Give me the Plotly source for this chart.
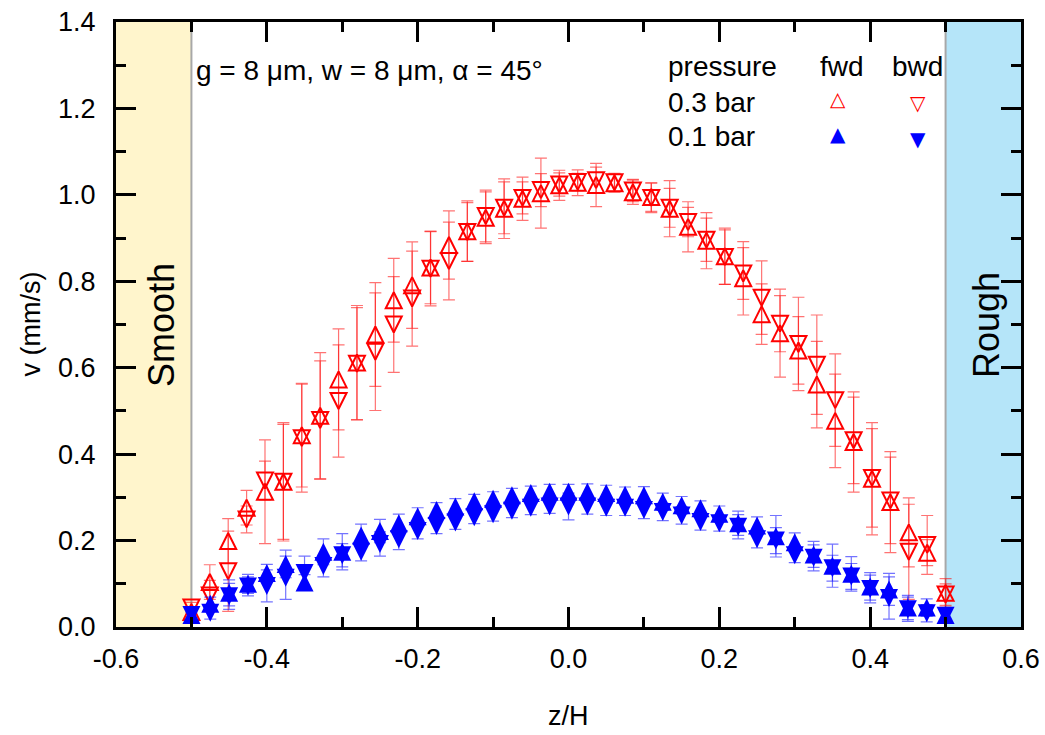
import plotly.graph_objects as go

# ---------------- data ----------------
z_03 = [-0.5, -0.47561, -0.45122, -0.42683, -0.40244, -0.37805, -0.35366, -0.32927, -0.30488,
        -0.28049, -0.2561, -0.23171, -0.20732, -0.18293, -0.15854, -0.13415, -0.10976, -0.08537,
        -0.06098, -0.03659, -0.0122, 0.0122, 0.03659, 0.06098, 0.08537, 0.10976, 0.13415, 0.15854,
        0.18293, 0.20732, 0.23171, 0.2561, 0.28049, 0.30488, 0.32927, 0.35366, 0.37805, 0.40244,
        0.42683, 0.45122, 0.47561, 0.5]
v_fwd_03 = [0.035, 0.104, 0.199, 0.276, 0.313, 0.336, 0.444, 0.489, 0.573, 0.612, 0.677, 0.756,
            0.791, 0.832, 0.884, 0.916, 0.947, 0.968, 0.991, 1.004, 1.022, 1.028, 1.023, 1.027,
            1.006, 0.995, 0.968, 0.926, 0.894, 0.858, 0.807, 0.724, 0.680, 0.640, 0.561, 0.477,
            0.428, 0.343, 0.289, 0.219, 0.172, 0.079]
v_bwd_03 = [0.045, 0.073, 0.129, 0.249, 0.339, 0.336, 0.437, 0.479, 0.523, 0.609, 0.637, 0.700,
            0.760, 0.829, 0.847, 0.914, 0.951, 0.970, 0.993, 1.011, 1.024, 1.030, 1.034, 1.029,
            1.010, 0.993, 0.970, 0.937, 0.896, 0.856, 0.818, 0.762, 0.702, 0.655, 0.607, 0.525,
            0.432, 0.345, 0.293, 0.174, 0.190, 0.075]
e_fwd_03 = [0.012, 0.04, 0.052, 0.04, 0.12, 0.137, 0.12, 0.146, 0.117, 0.132, 0.12, 0.097, 0.1,
            0.084, 0.079, 0.07, 0.06, 0.069, 0.05, 0.081, 0.035, 0.03, 0.05, 0.021, 0.028, 0.033,
            0.065, 0.058, 0.065, 0.065, 0.085, 0.07, 0.102, 0.078, 0.1, 0.108, 0.116, 0.13, 0.117,
            0.08, 0.03, 0.033]
e_bwd_03 = [0.012, 0.035, 0.093, 0.031, 0.045, 0.133, 0.125, 0.137, 0.13, 0.13, 0.136, 0.111,
            0.11, 0.086, 0.09, 0.068, 0.06, 0.06, 0.037, 0.038, 0.027, 0.02, 0.03, 0.021, 0.026,
            0.034, 0.045, 0.034, 0.05, 0.063, 0.06, 0.085, 0.065, 0.108, 0.115, 0.107, 0.1, 0.114,
            0.1, 0.11, 0.068, 0.025]

z_01 = [-0.5, -0.475, -0.45, -0.425, -0.4, -0.375, -0.35, -0.325, -0.3, -0.275, -0.25, -0.225,
        -0.2, -0.175, -0.15, -0.125, -0.1, -0.075, -0.05, -0.025, 0.0, 0.025, 0.05, 0.075, 0.1,
        0.125, 0.15, 0.175, 0.2, 0.225, 0.25, 0.275, 0.3, 0.325, 0.35, 0.375, 0.4, 0.425, 0.45,
        0.475, 0.5]
v_fwd_01 = [0.028, 0.054, 0.079, 0.100, 0.125, 0.146, 0.103, 0.174, 0.174, 0.212, 0.222, 0.240,
            0.256, 0.271, 0.279, 0.291, 0.297, 0.305, 0.310, 0.313, 0.313, 0.313, 0.310, 0.306,
            0.305, 0.290, 0.282, 0.275, 0.262, 0.240, 0.235, 0.210, 0.196, 0.168, 0.142, 0.123,
            0.094, 0.087, 0.045, 0.045, 0.028]
v_bwd_01 = [0.028, 0.033, 0.071, 0.094, 0.095, 0.114, 0.125, 0.141, 0.166, 0.174, 0.192, 0.203,
            0.222, 0.234, 0.242, 0.254, 0.261, 0.269, 0.276, 0.279, 0.279, 0.279, 0.276, 0.276,
            0.271, 0.266, 0.258, 0.243, 0.240, 0.232, 0.203, 0.200, 0.166, 0.160, 0.136, 0.117,
            0.088, 0.067, 0.041, 0.032, 0.026]
e_fwd_01 = [0.01, 0.015, 0.03, 0.022, 0.02, 0.032, 0.018, 0.03, 0.042, 0.026, 0.027, 0.021, 0.02,
            0.017, 0.018, 0.016, 0.016, 0.016, 0.016, 0.017, 0.017, 0.018, 0.018, 0.018, 0.02,
            0.02, 0.02, 0.017, 0.018, 0.028, 0.02, 0.048, 0.022, 0.03, 0.05, 0.04, 0.032, 0.037,
            0.028, 0.02, 0.01]
e_bwd_01 = [0.01, 0.015, 0.03, 0.022, 0.037, 0.05, 0.039, 0.025, 0.027, 0.021, 0.028, 0.024,
            0.018, 0.018, 0.016, 0.015, 0.016, 0.016, 0.016, 0.016, 0.031, 0.018, 0.018, 0.018,
            0.02, 0.02, 0.02, 0.019, 0.018, 0.028, 0.02, 0.03, 0.017, 0.03, 0.03, 0.03, 0.032,
            0.049, 0.028, 0.02, 0.01]

x_ticks = [-0.6, -0.4, -0.2, 0.0, 0.2, 0.4, 0.6]
x_ticktext = ["-0.6", "-0.4", "-0.2", "0.0", "0.2", "0.4", "0.6"]
y_ticks = [0.0, 0.2, 0.4, 0.6, 0.8, 1.0, 1.2, 1.4]
y_ticktext = ["0.0", "0.2", "0.4", "0.6", "0.8", "1.0", "1.2", "1.4"]

# ---------------- layout helpers ----------------
W, H = 1045, 735
ML, MR, MT, MB = 116, 24, 22, 108
PW, PH = W - ML - MR, H - MT - MB


def px_x(p):
    return (p - ML) / PW


def px_y(p):
    return (H - MB - p) / PH


FONT = "Arial, Liberation Sans, sans-serif"
RED = "#FF0000"
BLUE = "#0000FF"

fig = go.Figure()


def tri_trace(x, y, err, color, up, filled, ecolor, size):
    sym = "arrow-down" if filled else "arrow-down-open"
    return go.Scatter(
        x=x, y=y, mode="markers",
        marker=dict(symbol=sym, size=size, color=color, angle=180 if up else 0,
                    standoff=size / 2,
                    line=dict(width=0 if filled else 2, color=color)),
        error_y=dict(type="data", array=err, visible=True, color=ecolor,
                     thickness=1.2, width=6),
        showlegend=False, cliponaxis=False, hoverinfo="skip",
    )


RED_E = "rgba(255,0,0,0.55)"
BLUE_E = "rgba(0,0,255,0.55)"
fig.add_trace(tri_trace(z_03, v_fwd_03, e_fwd_03, RED, True, False, RED_E, 16))
fig.add_trace(tri_trace(z_03, v_bwd_03, e_bwd_03, RED, False, False, RED_E, 16))
fig.add_trace(tri_trace(z_01, v_fwd_01, e_fwd_01, BLUE, True, True, BLUE_E, 18))
fig.add_trace(tri_trace(z_01, v_bwd_01, e_bwd_01, BLUE, False, True, BLUE_E, 18))

shapes = [
    dict(type="rect", xref="x", yref="y", x0=-0.6, x1=-0.5, y0=0, y1=1.4,
         fillcolor="#FFF5CC", line=dict(width=0), layer="below"),
    dict(type="rect", xref="x", yref="y", x0=0.5, x1=0.6, y0=0, y1=1.4,
         fillcolor="#B5E5F9", line=dict(width=0), layer="below"),
    dict(type="line", xref="x", yref="y", x0=-0.5, x1=-0.5, y0=0, y1=1.4,
         line=dict(color="#A8A8A8", width=2), layer="below"),
    dict(type="line", xref="x", yref="y", x0=0.5, x1=0.5, y0=0, y1=1.4,
         line=dict(color="#A8A8A8", width=2), layer="below"),
]

TF = dict(family=FONT, size=27, color="black")
ann = []


def add_text(text, x, y, xanchor="left", size=28, color="black", angle=0, family=FONT,
             xref="paper", yref="paper"):
    ann.append(dict(text=text, x=x, y=y, xref=xref, yref=yref, xanchor=xanchor,
                    yanchor="middle", showarrow=False, textangle=angle,
                    font=dict(family=family, size=size, color=color)))


add_text("g = 8 μm, w = 8 μm, α = 45°", px_x(194), px_y(70))
add_text("pressure", px_x(666), px_y(67))
add_text("fwd", px_x(842), px_y(67), xanchor="center")
add_text("bwd", px_x(917), px_y(67), xanchor="center")
add_text("0.3 bar", px_x(666), px_y(102))
add_text("0.1 bar", px_x(666), px_y(136))
SYMF = "DejaVu Sans"
add_text("△", px_x(838), px_y(99), xanchor="center", size=20, color=RED, family=SYMF)
add_text("▽", px_x(918), px_y(103), xanchor="center", size=20, color=RED, family=SYMF)
add_text("▲", px_x(838), px_y(134), xanchor="center", size=20, color=BLUE, family=SYMF)
add_text("▼", px_x(918), px_y(139), xanchor="center", size=20, color=BLUE, family=SYMF)
add_text("Smooth", px_x(161), px_y(325), xanchor="center", size=36, angle=-90)
add_text("Rough", px_x(986), px_y(325), xanchor="center", size=36, angle=-90)
add_text("v (mm/s)", px_x(30), 0.5, xanchor="center", size=27, angle=-90)
add_text("z/H", 0.5, px_y(716), xanchor="center", size=27)

axis_common = dict(
    showline=True, linewidth=3, linecolor="black", mirror="ticks",
    ticks="inside", ticklen=20, tickwidth=3, tickcolor="black",
    showgrid=False, zeroline=False, tickfont=TF, automargin=False,
    minor=dict(ticks="inside", ticklen=10, tickwidth=3, tickcolor="black", dtick=0.1),
)

fig.update_layout(
    width=W, height=H,
    margin=dict(l=ML, r=MR, t=MT, b=MB, pad=0, autoexpand=False),
    paper_bgcolor="white", plot_bgcolor="white",
    xaxis=dict(range=[-0.6, 0.6], tickvals=x_ticks, ticktext=x_ticktext,
               ticklabelstandoff=6, **axis_common),
    yaxis=dict(range=[0, 1.4], tickvals=y_ticks, ticktext=y_ticktext,
               ticklabelstandoff=12, **axis_common),
    shapes=shapes, annotations=ann, showlegend=False,
)

fig.write_html("out.html")
